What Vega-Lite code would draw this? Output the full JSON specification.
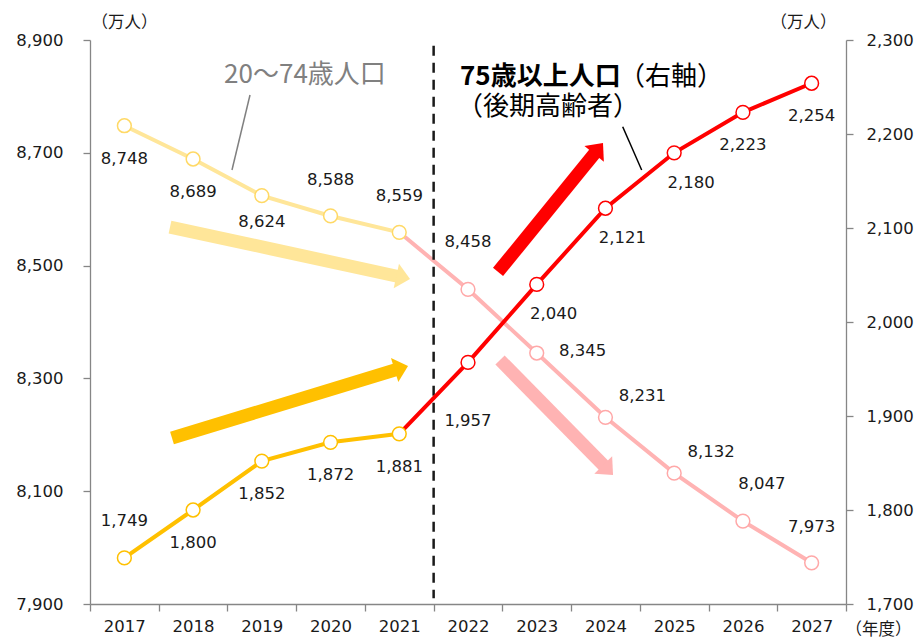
{
  "$schema": "https://vega.github.io/schema/vega-lite/v6.json",
  "width": 756,
  "height": 564,
  "autosize": {"type": "none"},
  "padding": {"left": 90, "top": 40, "right": 69, "bottom": 36},
  "background": "white",
  "config": {
    "view": {"stroke": null},
    "font": "DejaVu Sans",
    "axis": {"grid": false, "domainColor": "#868686", "tickColor": "#868686", "domainWidth": 1.3, "tickWidth": 1.3, "tickSize": 7, "labelColor": "#1a1a1a", "labelFont": "DejaVu Sans", "labelFontSize": 16.5, "labelFlush": false, "labelOverlap": false, "titleFont": "Noto Sans CJK JP", "titleFontSize": 16.5, "titleFontWeight": "normal", "titleColor": "#1a1a1a", "titleAngle": 0, "titleAlign": "center", "titleBaseline": "middle"},
    "text": {"font": "DejaVu Sans", "fontSize": 16.5, "color": "#1a1a1a", "align": "center", "baseline": "middle"}
  },
  "datasets": {
    "pop": [
      {"year": 2017, "series": "20～74歳人口", "value": 8748, "lp": "A"},
      {"year": 2018, "series": "20～74歳人口", "value": 8689, "lp": "A"},
      {"year": 2019, "series": "20～74歳人口", "value": 8624, "lp": "C"},
      {"year": 2020, "series": "20～74歳人口", "value": 8588, "lp": "B"},
      {"year": 2021, "series": "20～74歳人口", "value": 8559, "lp": "B"},
      {"year": 2022, "series": "20～74歳人口", "value": 8458, "lp": "D"},
      {"year": 2023, "series": "20～74歳人口", "value": 8345, "lp": "G"},
      {"year": 2024, "series": "20～74歳人口", "value": 8231, "lp": "H"},
      {"year": 2025, "series": "20～74歳人口", "value": 8132, "lp": "H"},
      {"year": 2026, "series": "20～74歳人口", "value": 8047, "lp": "I"},
      {"year": 2027, "series": "20～74歳人口", "value": 7973, "lp": "B"},
      {"year": 2017, "series": "75歳以上人口", "value": 1749, "lp": "B"},
      {"year": 2018, "series": "75歳以上人口", "value": 1800, "lp": "A"},
      {"year": 2019, "series": "75歳以上人口", "value": 1852, "lp": "A"},
      {"year": 2020, "series": "75歳以上人口", "value": 1872, "lp": "A"},
      {"year": 2021, "series": "75歳以上人口", "value": 1881, "lp": "A"},
      {"year": 2022, "series": "75歳以上人口", "value": 1957, "lp": "E"},
      {"year": 2023, "series": "75歳以上人口", "value": 2040, "lp": "F"},
      {"year": 2024, "series": "75歳以上人口", "value": 2121, "lp": "F"},
      {"year": 2025, "series": "75歳以上人口", "value": 2180, "lp": "F"},
      {"year": 2026, "series": "75歳以上人口", "value": 2223, "lp": "A"},
      {"year": 2027, "series": "75歳以上人口", "value": 2254, "lp": "A"}
    ]
  },
  "data": {"name": "pop"},
  "layer": [
    {
      "layer": [
        {
          "transform": [{"filter": "datum.series == '20～74歳人口' && datum.year <= 2021"}],
          "mark": {"type": "line", "color": "#FFE699", "strokeWidth": 4},
          "encoding": {
            "x": {"field": "year", "type": "quantitative", "scale": {"domain": [2016.5, 2027.5], "nice": false, "zero": false},
              "axis": {"values": [2016.5, 2017.5, 2018.5, 2019.5, 2020.5, 2021.5, 2022.5, 2023.5, 2024.5, 2025.5, 2026.5, 2027.5], "labelOffset": 34.36, "labelExpr": "datum.value > 2027 ? '' : '' + (datum.value + 0.5)", "labelPadding": 7, "title": "（年度）", "titleX": 788, "titleY": 25}},
            "y": {"field": "value", "type": "quantitative", "scale": {"domain": [7900, 8900], "nice": false, "zero": false},
              "axis": {"orient": "left", "values": [7900, 8100, 8300, 8500, 8700, 8900], "format": ",d", "labelPadding": 20, "title": "（万人）", "titleX": 34, "titleY": -18}}
          }
        },
        {
          "transform": [{"filter": "datum.series == '20～74歳人口' && datum.year >= 2021"}],
          "mark": {"type": "line", "color": "#FFB3B3", "strokeWidth": 4},
          "encoding": {
            "x": {"field": "year", "type": "quantitative"},
            "y": {"field": "value", "type": "quantitative"}
          }
        },
        {
          "data": {"values": [{}]},
          "mark": {"type": "rule", "color": "#1a1a1a", "strokeWidth": 2.5, "strokeDash": [10, 7]},
          "encoding": {"x": {"datum": 2021.5, "type": "quantitative"}, "y": {"datum": 8890, "type": "quantitative"}, "y2": {"datum": 7910}}
        },
        {
          "data": {"values": [{}]},
          "mark": {"type": "rule", "color": "#FFE699", "strokeWidth": 13, "strokeCap": "butt"},
          "encoding": {"x": {"datum": 2017.664, "type": "quantitative"}, "y": {"datum": 8568.4, "type": "quantitative"}, "x2": {"datum": 2020.986}, "y2": {"datum": 8480.7}}
        },
        {
          "data": {"values": [{}]},
          "mark": {"type": "point", "shape": "M 0.56 0 L -0.56 -1 L -0.56 1 Z", "size": 625, "filled": true, "color": "#FFE699", "opacity": 1, "angle": 12.2},
          "encoding": {"x": {"datum": 2021.057, "type": "quantitative"}, "y": {"datum": 8478.9, "type": "quantitative"}}
        },
        {
          "data": {"values": [{}]},
          "mark": {"type": "rule", "color": "#FFC000", "strokeWidth": 13, "strokeCap": "butt"},
          "encoding": {"x": {"datum": 2017.693, "type": "quantitative"}, "y": {"datum": 8194.3, "type": "quantitative"}, "x2": {"datum": 2020.96}, "y2": {"datum": 8315.8}}
        },
        {
          "data": {"values": [{}]},
          "mark": {"type": "point", "shape": "M 0.56 0 L -0.56 -1 L -0.56 1 Z", "size": 625, "filled": true, "color": "#FFC000", "opacity": 1, "angle": 343},
          "encoding": {"x": {"datum": 2021.03, "type": "quantitative"}, "y": {"datum": 8318.4, "type": "quantitative"}}
        },
        {
          "data": {"values": [{}]},
          "mark": {"type": "rule", "color": "#FF0000", "strokeWidth": 13, "strokeCap": "butt"},
          "encoding": {"x": {"datum": 2022.437, "type": "quantitative"}, "y": {"datum": 8488.7, "type": "quantitative"}, "x2": {"datum": 2023.854}, "y2": {"datum": 8700.9}}
        },
        {
          "data": {"values": [{}]},
          "mark": {"type": "point", "shape": "M 0.56 0 L -0.56 -1 L -0.56 1 Z", "size": 625, "filled": true, "color": "#FF0000", "opacity": 1, "angle": 309.1},
          "encoding": {"x": {"datum": 2023.9, "type": "quantitative"}, "y": {"datum": 8707.8, "type": "quantitative"}}
        },
        {
          "data": {"values": [{}]},
          "mark": {"type": "rule", "color": "#FFB3B3", "strokeWidth": 13, "strokeCap": "butt"},
          "encoding": {"x": {"datum": 2022.466, "type": "quantitative"}, "y": {"datum": 8332.6, "type": "quantitative"}, "x2": {"datum": 2023.988}, "y2": {"datum": 8144.0}}
        },
        {
          "data": {"values": [{}]},
          "mark": {"type": "point", "shape": "M 0.56 0 L -0.56 -1 L -0.56 1 Z", "size": 625, "filled": true, "color": "#FFB3B3", "opacity": 1, "angle": 45.5},
          "encoding": {"x": {"datum": 2024.039, "type": "quantitative"}, "y": {"datum": 8137.6, "type": "quantitative"}}
        },
        {
          "data": {"values": [{}]},
          "mark": {"type": "rule", "color": "#808080", "strokeWidth": 1.5},
          "encoding": {"x": {"datum": 2018.828, "type": "quantitative"}, "y": {"datum": 8802.5, "type": "quantitative"}, "x2": {"datum": 2018.566}, "y2": {"datum": 8669.5}}
        },
        {
          "data": {"values": [{}]},
          "mark": {"type": "rule", "color": "#000000", "strokeWidth": 1.5},
          "encoding": {"x": {"datum": 2024.251, "type": "quantitative"}, "y": {"datum": 8746.3, "type": "quantitative"}, "x2": {"datum": 2024.527}, "y2": {"datum": 8669.5}}
        },
        {
          "data": {"values": [{}]},
          "mark": {"type": "text", "font": "Noto Sans CJK JP", "fontSize": 26, "color": "#808080", "align": "center"},
          "encoding": {"x": {"datum": 2019.628, "type": "quantitative"}, "y": {"datum": 8837.9, "type": "quantitative"}, "text": {"value": "20～74歳人口"}}
        },
        {
          "data": {"values": [{}]},
          "mark": {"type": "text", "font": "Noto Sans CJK JP", "fontSize": 26, "fontWeight": "bold", "color": "#000000", "align": "left"},
          "encoding": {"x": {"datum": 2021.884, "type": "quantitative"}, "y": {"datum": 8834.4, "type": "quantitative"}, "text": {"value": "75歳以上人口"}}
        },
        {
          "data": {"values": [{}]},
          "mark": {"type": "text", "font": "Noto Sans CJK JP", "fontSize": 26, "color": "#000000", "align": "left"},
          "encoding": {"x": {"datum": 2024.197, "type": "quantitative"}, "y": {"datum": 8834.4, "type": "quantitative"}, "text": {"value": "（右軸）"}}
        },
        {
          "data": {"values": [{}]},
          "mark": {"type": "text", "font": "Noto Sans CJK JP", "fontSize": 26, "color": "#000000", "align": "center"},
          "encoding": {"x": {"datum": 2023.164, "type": "quantitative"}, "y": {"datum": 8781.7, "type": "quantitative"}, "text": {"value": "（後期高齢者）"}}
        },
        {
          "transform": [{"filter": "datum.series == '20～74歳人口'"}],
          "mark": {"type": "point", "shape": "circle", "size": 190, "filled": true, "fill": "white", "fillOpacity": 1, "strokeOpacity": 1, "strokeWidth": 1.5},
          "encoding": {
            "x": {"field": "year", "type": "quantitative"},
            "y": {"field": "value", "type": "quantitative"},
            "stroke": {"condition": {"test": "datum.year <= 2021", "value": "#FFD966"}, "value": "#FFA8A8"}
          }
        },
        {
          "transform": [{"filter": "datum.series == '20～74歳人口' && datum.lp == 'A'"}],
          "mark": {"type": "text", "dy": 33},
          "encoding": {"x": {"field": "year", "type": "quantitative"}, "y": {"field": "value", "type": "quantitative"}, "text": {"field": "value", "type": "quantitative", "format": ","}}
        },
        {
          "transform": [{"filter": "datum.series == '20～74歳人口' && datum.lp == 'B'"}],
          "mark": {"type": "text", "dy": -36},
          "encoding": {"x": {"field": "year", "type": "quantitative"}, "y": {"field": "value", "type": "quantitative"}, "text": {"field": "value", "type": "quantitative", "format": ","}}
        },
        {
          "transform": [{"filter": "datum.series == '20～74歳人口' && datum.lp == 'C'"}],
          "mark": {"type": "text", "dy": 26},
          "encoding": {"x": {"field": "year", "type": "quantitative"}, "y": {"field": "value", "type": "quantitative"}, "text": {"field": "value", "type": "quantitative", "format": ","}}
        },
        {
          "transform": [{"filter": "datum.series == '20～74歳人口' && datum.lp == 'D'"}],
          "mark": {"type": "text", "dy": -47},
          "encoding": {"x": {"field": "year", "type": "quantitative"}, "y": {"field": "value", "type": "quantitative"}, "text": {"field": "value", "type": "quantitative", "format": ","}}
        },
        {
          "transform": [{"filter": "datum.series == '20～74歳人口' && datum.lp == 'G'"}],
          "mark": {"type": "text", "dx": 46, "dy": -2},
          "encoding": {"x": {"field": "year", "type": "quantitative"}, "y": {"field": "value", "type": "quantitative"}, "text": {"field": "value", "type": "quantitative", "format": ","}}
        },
        {
          "transform": [{"filter": "datum.series == '20～74歳人口' && datum.lp == 'H'"}],
          "mark": {"type": "text", "dx": 37, "dy": -21},
          "encoding": {"x": {"field": "year", "type": "quantitative"}, "y": {"field": "value", "type": "quantitative"}, "text": {"field": "value", "type": "quantitative", "format": ","}}
        },
        {
          "transform": [{"filter": "datum.series == '20～74歳人口' && datum.lp == 'I'"}],
          "mark": {"type": "text", "dx": 19, "dy": -37},
          "encoding": {"x": {"field": "year", "type": "quantitative"}, "y": {"field": "value", "type": "quantitative"}, "text": {"field": "value", "type": "quantitative", "format": ","}}
        }
      ]
    },
    {
      "layer": [
        {
          "transform": [{"filter": "datum.series == '75歳以上人口' && datum.year <= 2021"}],
          "mark": {"type": "line", "color": "#FFC000", "strokeWidth": 4},
          "encoding": {
            "x": {"field": "year", "type": "quantitative"},
            "y": {"field": "value", "type": "quantitative", "scale": {"domain": [1700, 2300], "nice": false, "zero": false},
              "axis": {"orient": "right", "values": [1700, 1800, 1900, 2000, 2100, 2200, 2300], "format": ",d", "labelPadding": 13, "title": "（万人）", "titleX": -43, "titleY": -18}}
          }
        },
        {
          "transform": [{"filter": "datum.series == '75歳以上人口' && datum.year >= 2021"}],
          "mark": {"type": "line", "color": "#FF0000", "strokeWidth": 4},
          "encoding": {
            "x": {"field": "year", "type": "quantitative"},
            "y": {"field": "value", "type": "quantitative"}
          }
        },
        {
          "transform": [{"filter": "datum.series == '75歳以上人口'"}],
          "mark": {"type": "point", "shape": "circle", "size": 190, "filled": true, "fill": "white", "fillOpacity": 1, "strokeOpacity": 1, "strokeWidth": 1.5},
          "encoding": {
            "x": {"field": "year", "type": "quantitative"},
            "y": {"field": "value", "type": "quantitative"},
            "stroke": {"condition": {"test": "datum.year <= 2021", "value": "#FFC000"}, "value": "#FF0000"}
          }
        },
        {
          "transform": [{"filter": "datum.series == '75歳以上人口' && datum.lp == 'A'"}],
          "mark": {"type": "text", "dy": 33},
          "encoding": {"x": {"field": "year", "type": "quantitative"}, "y": {"field": "value", "type": "quantitative"}, "text": {"field": "value", "type": "quantitative", "format": ","}}
        },
        {
          "transform": [{"filter": "datum.series == '75歳以上人口' && datum.lp == 'B'"}],
          "mark": {"type": "text", "dy": -37},
          "encoding": {"x": {"field": "year", "type": "quantitative"}, "y": {"field": "value", "type": "quantitative"}, "text": {"field": "value", "type": "quantitative", "format": ","}}
        },
        {
          "transform": [{"filter": "datum.series == '75歳以上人口' && datum.lp == 'E'"}],
          "mark": {"type": "text", "dy": 59},
          "encoding": {"x": {"field": "year", "type": "quantitative"}, "y": {"field": "value", "type": "quantitative"}, "text": {"field": "value", "type": "quantitative", "format": ","}}
        },
        {
          "transform": [{"filter": "datum.series == '75歳以上人口' && datum.lp == 'F'"}],
          "mark": {"type": "text", "dx": 17, "dy": 30},
          "encoding": {"x": {"field": "year", "type": "quantitative"}, "y": {"field": "value", "type": "quantitative"}, "text": {"field": "value", "type": "quantitative", "format": ","}}
        }
      ]
    }
  ],
  "resolve": {"scale": {"y": "independent"}}
}
